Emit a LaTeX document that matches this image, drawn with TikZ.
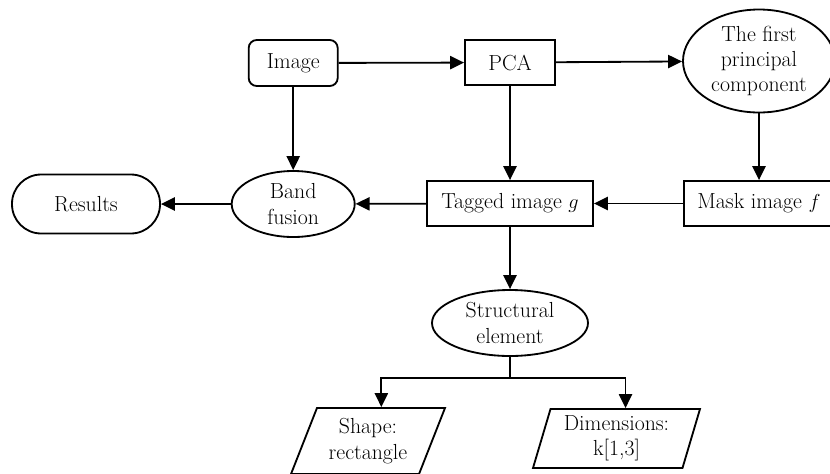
\documentclass[tikz,border=0pt]{standalone}
\usepackage{amsmath,amssymb}
\usepackage{tikz}
\usetikzlibrary{
  arrows.meta,
  positioning,
  calc,
  shapes.geometric
}

\begin{document}
\begin{tikzpicture}[
  every node/.style={draw, line width=1.3pt, align=center, inner sep=0pt,
                     font=\fontsize{15.5}{18}\selectfont},
  procbox/.style={rectangle, minimum height=1.125cm},
  startbox/.style={rectangle, rounded corners=0.2cm, minimum height=1.15cm},
  endbox/.style={rectangle, rounded corners=0.73cm, minimum height=1.475cm},
  ovalbox/.style={ellipse},
  databox/.style={trapezium, trapezium stretches body=true},
  flow/.style={draw, line width=1.3pt, -{Triangle[length=0.35cm,width=0.33cm]}},
]
  \useasboundingbox (0,0) rectangle (20.75,-11.825);

  % Top row: input, PCA and first component
  \node[startbox, minimum width=2.225cm] at (7.33,-1.575) (img) {Image};
  \node[procbox, minimum width=2.25cm] at (12.75,-1.5625) (pca) {PCA};
  \node[ovalbox, minimum width=3.8cm, minimum height=2.575cm]
    at (18.975,-1.525) (pc1) {The first\\principal\\component};

  % Middle row: results, fusion, tagged and mask image
  \node[endbox, minimum width=3.7cm] at (2.15,-5.1) (res) {Results};
  \node[ovalbox, minimum width=3.075cm, minimum height=1.65cm]
    at (7.33,-5.1) (fus) {Band\\fusion};
  \node[procbox, minimum width=4.15cm] at (12.75,-5.0875) (tag) {Tagged image $g$};
  \node[procbox, minimum width=3.75cm] at (18.975,-5.0875) (mask) {Mask image $f$};

  % Structural element and its parameters
  \node[ovalbox, minimum width=3.9cm, minimum height=1.65cm]
    at (12.75,-8.075) (str) {Structural\\element};
  \node[databox, trapezium left angle=60, trapezium right angle=120,
        minimum width=3.85cm, minimum height=1.65cm]
    at (9.2,-11.025) (shp) {Shape:\\rectangle};
  \node[databox, trapezium left angle=69, trapezium right angle=111,
        minimum width=4.175cm, minimum height=1.475cm]
    at (15.4125,-10.9625) (dim) {Dimensions:\\k[1,3]};
  \coordinate (split) at (12.75,-9.45);

  % Connectors
  \draw[flow] (img) -- (pca);
  \draw[flow] (pca) -- (pc1);
  \draw[flow] (img) -- (fus);
  \draw[flow] (pca) -- (tag);
  \draw[flow] (pc1) -- (mask);
  \draw[flow] (mask) -- (tag);
  \draw[flow] (tag) -- (fus);
  \draw[flow] (fus) -- (res);
  \draw[flow] (tag) -- (str);
  \draw[line width=1.3pt] (str) -- (split);
  \draw[flow] (split) -| (shp.top side);
  \draw[flow] (split) -| (dim.top side);

\end{tikzpicture}
\end{document}
